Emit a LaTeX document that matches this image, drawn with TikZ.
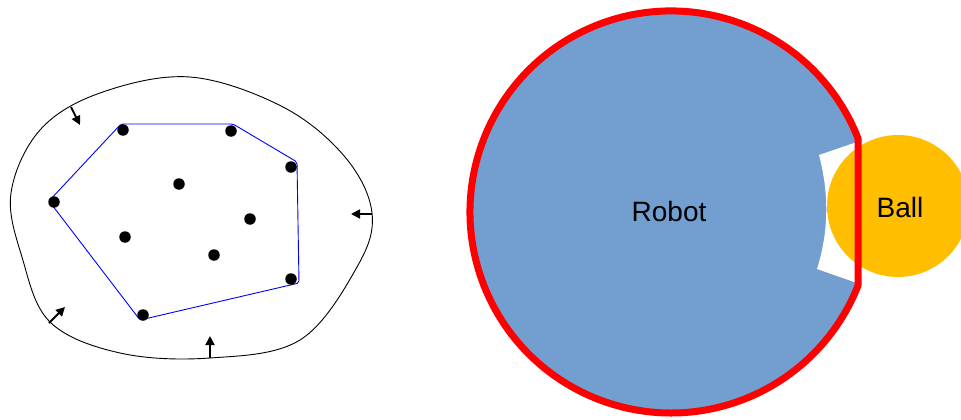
\documentclass[tikz,border=0pt]{standalone}
\usepackage{fontspec}
\setmainfont{Liberation Sans}
\usepackage{xcolor}
\usetikzlibrary{arrows.meta}
\definecolor{robotblue}{HTML}{729FCF}
\definecolor{ballgold}{HTML}{FFBF00}

\begin{document}
\begin{tikzpicture}[x=1pt,y=-1pt,>={Triangle[length=9pt,width=9pt]},
  dot/.style={circle,fill=black,inner sep=0pt,minimum size=11.5pt},
  push/.style={->,line width=1.8pt},
  hull/.style={blue,line width=0.9pt,rounded corners=2pt},
  every node/.style={font=\fontsize{28}{32}\selectfont}]
\clip (0,0) rectangle (961,420);
% left: shrinking contour around the point set
\draw[line width=0.9pt] plot[smooth cycle,tension=0.6] coordinates {
  (190,77) (283,107) (345,157) (372,213) (357,267) (300,340)
  (210,358) (120,353) (50,322) (22,257) (11,193) (40,130) (100,93)};
\draw[hull] (121,124) -- (233,124) -- (297,162) -- (299,283)
  -- (140,320) -- (49,201) -- cycle;
\node[dot] (p1) at (123,130) {};
\node[dot] (p2) at (231,131) {};
\node[dot] (p3) at (291,167) {};
\node[dot] (p4) at (179,184) {};
\node[dot] (p5) at (54,202) {};
\node[dot] (p6) at (250,219) {};
\node[dot] (p7) at (125,237) {};
\node[dot] (p8) at (214,255) {};
\node[dot] (p9) at (291,279) {};
\node[dot] (p10) at (143,315) {};
\coordinate (a1) at (71,107);  \coordinate (b1) at (80,125);
\coordinate (a2) at (372,214); \coordinate (b2) at (351,214);
\coordinate (a3) at (210,358); \coordinate (b3) at (210,336);
\coordinate (a4) at (49,323);  \coordinate (b4) at (65,307);
\draw[push] (a1) -- (b1);
\draw[push] (a2) -- (b2);
\draw[push] (a3) -- (b3);
\draw[push] (a4) -- (b4);
% right: robot with ball in the kicker
\fill[robotblue] (858,138.3) arc[start angle=-21.5,end angle=-338.5,radius=201] -- cycle;
\fill[white] (819,155) -- (857,142) -- (857,283) -- (817,269)
  .. controls (829,231) and (829,193) .. (819,155) -- cycle;
\fill[ballgold] (898,206) circle[radius=71];
\draw[red,line width=7pt,line join=round] (858,138.3)
  arc[start angle=-21.5,end angle=-338.5,radius=201] -- cycle;
\node (robot) at (669,211) {Robot};
\node (ball) at (900,207) {Ball};
\end{tikzpicture}
\end{document}
